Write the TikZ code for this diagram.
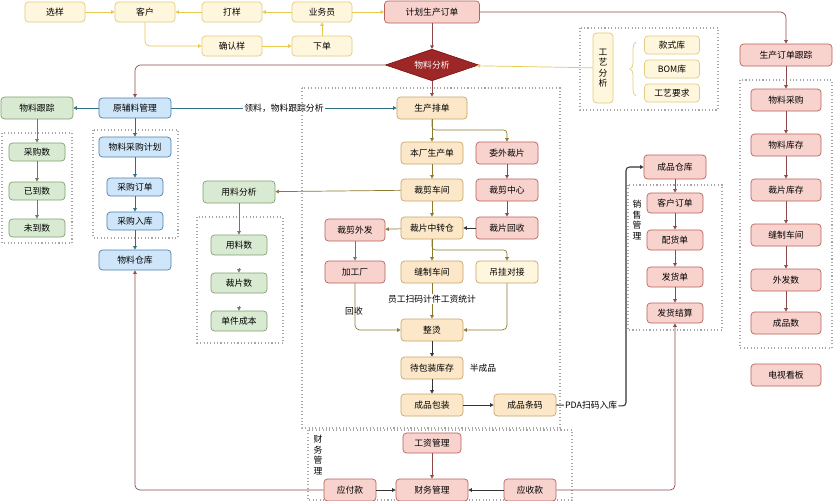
\documentclass[tikz,border=0pt]{standalone}
\usepackage{fontspec}
\setmainfont{Noto Sans CJK SC}
\usetikzlibrary{arrows.meta,shapes.geometric,decorations.pathreplacing}
\definecolor{yf}{HTML}{FFF6DE}\definecolor{yd}{HTML}{E2CC80}
\definecolor{pf}{HTML}{F8D3CE}\definecolor{pd}{HTML}{B8605A}
\definecolor{of}{HTML}{FCE8C8}\definecolor{od}{HTML}{C9A46A}
\definecolor{gf}{HTML}{D8EAD2}\definecolor{gd}{HTML}{7FA36E}
\definecolor{bf}{HTML}{CFE6FA}\definecolor{bd}{HTML}{4E7FA6}
\definecolor{ya}{HTML}{E8C94E}\definecolor{oa}{HTML}{8C7A2E}
\definecolor{ra}{HTML}{8E4A4A}\definecolor{ta}{HTML}{2F6F86}
\definecolor{ga}{HTML}{6B7D5E}
\tikzset{
 x=0.03cm,y=-0.03cm,
 bx/.style={draw,rounded corners=3pt,line width=0.6pt,font=\fontsize{7.5}{8}\selectfont,inner sep=1pt,minimum height=0.6cm},
 Y/.style={bx,fill=yf,draw=yd,minimum width=1.8cm},
 P/.style={bx,fill=pf,draw=pd},
 O/.style={bx,fill=of,draw=od,minimum width=1.86cm,minimum height=0.66cm},
 G/.style={bx,fill=gf,draw=gd},
 B/.style={bx,fill=bf,draw=bd},
 ar/.style={-{Triangle[length=3pt,width=3pt]},line width=0.6pt},
 ya/.style={ar,draw=ya},oa/.style={ar,draw=oa},ra/.style={ar,draw=ra},ta/.style={ar,draw=ta},ga/.style={ar,draw=ga},ka/.style={ar,draw=black!80},
 grp/.style={draw=gray!70,dotted,line width=0.9pt},
 lb/.style={font=\fontsize{7.5}{8}\selectfont,fill=white,inner sep=1pt},
 vt/.style={font=\fontsize{7.5}{9}\selectfont,align=center,inner sep=1pt}
}
\begin{document}
\begin{tikzpicture}
\useasboundingbox[fill=white] (0,0) rectangle (834,500);
% groups
\draw[grp] (580,28) rectangle (718,110);
\draw[grp] (740,80) rectangle (832,348);
\draw[grp] (2,133) rectangle (72,243);
\draw[grp] (93,130) rectangle (178,238);
\draw[grp] (302,88) rectangle (560,428);
\draw[grp] (628,185) rectangle (722,330);
\draw[grp] (197,217) rectangle (283,343);
\draw[grp] (308,430) rectangle (572,500);
% top row
\node[Y] (xy) at (55,12) {选样};
\node[Y] (kh) at (145,12) {客户};
\node[Y] (dy) at (232,12) {打样};
\node[Y] (ywy) at (322,12) {业务员};
\node[P,minimum width=2.85cm,minimum height=0.66cm] (jh) at (432,12) {计划生产订单};
\node[Y] (qr) at (232,46) {确认样};
\node[Y] (xd) at (322,46) {下单};
\draw[ya] (xy) -- (kh);
\draw[ya] (dy) -- (kh);
\draw[ya] (ywy) -- (dy);
\draw[ya] (ywy) -- (jh);
\draw[ya] (xd) -- (ywy);
\draw[ya] (qr) -- (xd);
\draw[ya,rounded corners=4pt] (kh.south) |- (qr.west);
% diamond
\node[diamond,aspect=3,fill=red!55!black!85,draw=red!45!black,inner sep=0.5pt,minimum width=2.8cm,minimum height=0.95cm,text=white,font=\fontsize{7.5}{8}\selectfont] (wl) at (432,65) {物料分析};
\draw[ra] (jh) -- (wl);
% craft analysis
\node[bx,fill=yf,draw=yd,minimum width=0.6cm,minimum height=2.1cm,vt] (gy) at (603,68) {工\\艺\\分\\析};
\node[Y,minimum width=1.65cm,minimum height=0.54cm] (ks) at (672,45) {款式库};
\node[Y,minimum width=1.65cm,minimum height=0.54cm] (bom) at (672,69) {BOM库};
\node[Y,minimum width=1.65cm,minimum height=0.54cm] (gyq) at (672,93) {工艺要求};
\draw[yd,line width=0.6pt,decorate,decoration={brace,amplitude=5pt,mirror}] (636,42) -- (636,96);
\draw[ya] (gy) -- (wl);
% order tracking
\node[P,minimum width=2.76cm,minimum height=0.66cm] (gz) at (786,55) {生产订单跟踪};
\draw[ra,rounded corners=5pt] (jh.east) -| (gz.north);
\foreach \n/\t/\yy in {c1/物料采购/100,c2/物料库存/145,c3/裁片库存/190,c4/缝制车间/235,c5/外发数/280,c6/成品数/323}
  \node[P,minimum width=2.1cm,minimum height=0.66cm] (\n) at (786,\yy) {\t};
\draw[ra] (gz) -- (c1);
\draw[ra] (c1) -- (c2); \draw[ra] (c2) -- (c3); \draw[ra] (c3) -- (c4); \draw[ra] (c4) -- (c5); \draw[ra] (c5) -- (c6);
\node[P,minimum width=2.1cm,minimum height=0.66cm] (ds) at (786,375) {电视看板};
% left material
\node[B,minimum width=2.16cm] (yf) at (135,108) {原辅料管理};
\node[G,minimum width=2.16cm,minimum height=0.66cm] (wlgz) at (37,108) {物料跟踪};
\draw[ra,rounded corners=5pt] (wl.west) -| (yf.north);
\draw[ta] (yf) -- (wlgz);
\node[G,minimum width=1.68cm,minimum height=0.54cm] (cgs) at (37,152) {采购数};
\node[G,minimum width=1.68cm,minimum height=0.54cm] (yds) at (37,191) {已到数};
\node[G,minimum width=1.68cm,minimum height=0.54cm] (wds) at (37,228) {未到数};
\draw[ga] (wlgz) -- (cgs); \draw[ga] (cgs) -- (yds); \draw[ga] (yds) -- (wds);
\node[B,minimum width=2.16cm] (cgjh) at (135,147) {物料采购计划};
\node[B,minimum width=1.68cm,minimum height=0.54cm] (cgdd) at (135,187) {采购订单};
\node[B,minimum width=1.68cm,minimum height=0.54cm] (cgrk) at (135,221) {采购入库};
\node[B,minimum width=2.16cm] (wlck) at (135,260) {物料仓库};
\draw[ta] (yf) -- (cgjh); \draw[ta] (cgjh) -- (cgdd); \draw[ta] (cgdd) -- (cgrk); \draw[ta] (cgrk) -- (wlck);
% production
\node[O,minimum width=2.1cm] (pd) at (432,108) {生产排单};
\draw[ta] (yf) -- node[lb]{领料，物料跟踪分析} (pd);
\draw[ra] (wl) -- (pd);
\node[O] (bc) at (432,153) {本厂生产单};
\node[P,minimum width=1.86cm,minimum height=0.66cm] (ww) at (507,153) {委外裁片};
\draw[oa] (pd) -- (bc);
\draw[oa,rounded corners=3pt] (pd.south) -- (432,130) -| (ww.north);
\node[O] (cj) at (432,190) {裁剪车间};
\node[P,minimum width=1.86cm,minimum height=0.66cm] (cjzx) at (507,190) {裁剪中心};
\node[O] (zz) at (432,228) {裁片中转仓};
\node[P,minimum width=1.86cm,minimum height=0.66cm] (hs) at (507,228) {裁片回收};
\draw[oa] (bc) -- (cj); \draw[oa] (cj) -- (zz);
\draw[ra] (ww) -- (cjzx); \draw[ra] (cjzx) -- (hs); \draw[ka] (hs) -- (zz);
\node[G,minimum width=2.16cm,minimum height=0.66cm] (yl) at (239,192) {用料分析};
\draw[oa] (cj) -- (yl);
\node[G,minimum width=1.68cm] (yls) at (239,245) {用料数};
\node[G,minimum width=1.68cm] (cps) at (239,283) {裁片数};
\node[G,minimum width=1.68cm] (djcb) at (239,321) {单件成本};
\draw[ga] (yl) -- (yls);
\coordinate (s1) at (239,268); \coordinate (s2) at (239,306);
\draw[ga] (s1) -- (cps.north); \draw[ga] (s2) -- (djcb.north);
\node[P,minimum width=1.8cm,minimum height=0.66cm] (wf) at (355,230) {裁剪外发};
\draw[oa] (zz) -- (wf);
\node[P,minimum width=1.8cm,minimum height=0.66cm] (jg) at (355,272) {加工厂};
\node[O] (fz) at (432,272) {缝制车间};
\node[bx,fill=yf,draw=od,minimum width=1.86cm,minimum height=0.66cm] (dg) at (507,272) {吊挂对接};
\draw[ga] (wf) -- (jg);
\draw[oa] (zz) -- (fz);
\draw[oa,rounded corners=3pt] (zz.south) -- (432,250) -| (dg.north);
\node[O] (zt) at (432,330) {整烫};
\draw[oa] (fz) -- node[lb,pos=0.45]{员工扫码计件工资统计} (zt);
\draw[oa,rounded corners=4pt] (jg.south) |- (zt.west);
\node[font=\fontsize{7.5}{8}\selectfont] at (354,311) {回收};
\draw[oa,rounded corners=4pt] (dg.south) |- (zt.east);
\node[O] (dbz) at (432,368) {待包装库存};
\node[font=\fontsize{7.5}{8}\selectfont] at (483,368) {半成品};
\node[O] (bz) at (432,405) {成品包装};
\node[O] (tm) at (525,405) {成品条码};
\draw[ka] (zt) -- (dbz); \draw[ka] (dbz) -- (bz); \draw[ka] (bz) -- (tm);
% sales
\node[P,minimum width=1.86cm,minimum height=0.72cm] (cpck) at (675,167) {成品仓库};
\draw[ka,line width=0.9pt,rounded corners=3pt] (tm.east) -- node[lb]{PDA扫码入库} (626,406) |- (cpck.west);
\node[vt] at (637,220) {销\\售\\管\\理};
\node[P,minimum width=1.68cm] (khdd) at (675,203) {客户订单};
\node[P,minimum width=1.68cm] (ph) at (675,240) {配货单};
\node[P,minimum width=1.68cm] (fh) at (675,277) {发货单};
\node[P,minimum width=1.68cm] (js) at (675,313) {发货结算};
\draw[ra] (cpck) -- (khdd); \draw[ra] (khdd) -- (ph); \draw[ra] (ph) -- (fh); \draw[ra] (fh) -- (js);
% finance
\node[vt] at (318,455) {财\\务\\管\\理};
\node[P,minimum width=1.74cm] (gz2) at (432,443) {工资管理};
\node[P,minimum width=2.16cm,minimum height=0.66cm] (cw) at (432,490) {财务管理};
\node[P,minimum width=1.56cm,minimum height=0.66cm] (yfk) at (350,490) {应付款};
\node[P,minimum width=1.56cm,minimum height=0.66cm] (ysk) at (530,490) {应收款};
\draw[ra] (gz2) -- (cw); \draw[ka] (yfk) -- (cw); \draw[ka] (ysk) -- (cw);
\draw[ra,rounded corners=4pt] (yfk.west) -| (wlck.south);
\draw[ra,rounded corners=4pt] (ysk.east) -| (js.south);
\end{tikzpicture}
\end{document}
